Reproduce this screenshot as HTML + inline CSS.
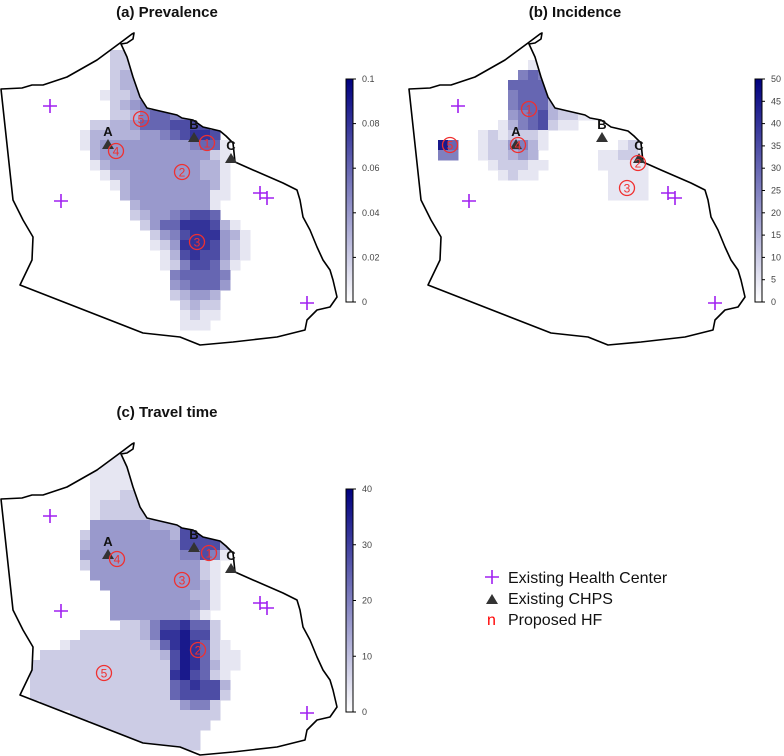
<!DOCTYPE html>
<html><head><meta charset="utf-8"><style>
html,body{margin:0;padding:0;background:#fff;}
svg{display:block;font-family:"Liberation Sans",Arial,sans-serif;}
</style></head><body>
<svg id="fig" width="784" height="756" viewBox="0 0 784 756" xmlns="http://www.w3.org/2000/svg">
<defs>
<linearGradient id="cbgrad" x1="0" y1="1" x2="0" y2="0">
<stop offset="0" stop-color="#ffffff"/><stop offset="1" stop-color="#00007f"/>
</linearGradient>
</defs>
<g>
  <g>
    <path d="M485 577 H499 M492 570 V584" stroke="#a020f0" stroke-width="1.6"/>
    <text x="508" y="583" font-size="16" fill="#111">Existing Health Center</text>
  </g>
  <g>
    <path d="M486 604 L498 604 L492 594 Z" fill="#333"/>
    <text x="508" y="604" font-size="16" fill="#111">Existing CHPS</text>
  </g>
  <g>
    <text x="487" y="625" font-size="16" fill="#ff0000">n</text>
    <text x="508" y="625" font-size="16" fill="#111">Proposed HF</text>
  </g>
</g>
</svg>
<script>
// ---- data ----
const panelTitles = ["(a) Prevalence", "(b) Incidence", "(c) Travel time"];
const panelMax = [0.1, 50, 40];
const tickLabelsA = ["0","0.02","0.04","0.06","0.08","0.1"];
const tickValuesA = [0,0.02,0.04,0.06,0.08,0.1];
const tickLabelsB = ["0","5","10","15","20","25","30","35","40","45","50"];
const tickValuesB = [0,5,10,15,20,25,30,35,40,45,50];
const tickLabelsC = ["0","10","20","30","40"];
const tickValuesC = [0,10,20,30,40];
// grids: rows from y=40 step 10, cols from x=20 step 10; digit d = d/10 of max
const gridPrevalence = [
"00000000000000000000000",
"00000000022200000000000",
"00000000022300000000000",
"00000000023300000000000",
"00000000023300000000000",
"00000000122300000000000",
"00000000023450000000000",
"00000000022356655000000",
"00000002233466677770000",
"00000013333344567887000",
"00000013444444444566100",
"00000003444444444442100",
"00000001344444444433100",
"00000000133444444433100",
"00000000013444444443100",
"00000000003444444441100",
"00000000000344444441000",
"00000000000234456776000",
"00000000000024668887310",
"00000000000002457888431",
"00000000000001248887421",
"00000000000000137877421",
"00000000000000125776310",
"00000000000000056666500",
"00000000000000045666400",
"00000000000000023443000",
"00000000000000002322000",
"00000000000000001211000",
"00000000000000001110000",
"00000000000000000000000"];
const gridIncidence = [
"00000000000000000000000",
"00000000000000000000000",
"00000000001000000000000",
"00000000056500000000000",
"00000000666610000000000",
"00000000566620000000000",
"00000000566630000000000",
"00000000456732211000000",
"00000001356721100000000",
"00000121222100000000000",
"09600122453100000001210",
"05500122343000000112210",
"00000012221100000111110",
"00000001211000000011110",
"00000000000000000011110",
"00000000000000000011110",
"00000000000000000000000"];
const gridTravel = [
"00000000111000000000000",
"00000000111000000000000",
"00000001111000000000000",
"00000001111100000000000",
"00000001112210000000000",
"00000001222221000000000",
"00000001222222000000000",
"00000004444443337770000",
"00000024444444437777000",
"00000034444444447777310",
"00000044444444445575100",
"00000024444444444421000",
"00000004444444444421000",
"00000000444444444431000",
"00000000044444444331000",
"00000000044444444431000",
"00000000044444444310000",
"00000000002235778662000",
"00000022222235889772000",
"00001222222223689862100",
"00222222222222379862110",
"02222222222222279863110",
"02222222222222289762100",
"02222222222222267877300",
"02222222222222267777200",
"00222222222222224552000",
"00000222222222222222000",
"00000002222222222220000",
"00000000022222222200000",
"00000000000222222200000",
"00000000000000222000000"];
const healthCenters = [[50,106],[61,201],[260,193],[267,198],[307,303]];
const chps = [["A",108,145],["B",194,138],["C",231,159]];
const proposedA = [[207,143],[182,172],[197,242],[116,151],[141,119]];
const proposedB = [[121,109],[230,163],[219,188],[110,145],[42,145]];
const proposedC = [[209,143],[198,240],[182,170],[117,149],[104,263]];
const outline = [[1,89],[22,88],[32,85],[43,85],[67,77],[97,60],[120,43],[132,34],[134,33],[133,39],[127,43],[121,44],[127,57],[133,77],[140,97],[147,108],[177,115],[182,118],[193,120],[203,127],[220,131],[226,136],[233,143],[235,162],[253,170],[283,183],[297,190],[300,200],[303,217],[310,230],[317,247],[323,260],[330,270],[333,280],[337,297],[330,307],[317,310],[307,320],[305,330],[277,337],[233,342],[200,345],[180,337],[143,333],[20,285],[32,260],[33,237],[23,220],[13,200],[1,89]];

// ---- drawing ----
const NS="http://www.w3.org/2000/svg";
const svg=document.getElementById('fig');
function mk(tag,attrs,parent){const e=document.createElementNS(NS,tag);for(const k in attrs)e.setAttribute(k,attrs[k]);(parent||svg).appendChild(e);return e;}
function color(f){f=Math.max(0,Math.min(1,f));const r=Math.round(255*(1-f)),g=Math.round(255*(1-f)),b=Math.round(255-128*f);return `rgb(${r},${g},${b})`;}
const cell=10, gx0=20, gy0=40;
function xs(c){return gx0+c*cell;}
function ys(r){return gy0+r*cell;}
const polyStr=outline.map(p=>p.join(',')).join(' ');

function panel(idx,dx,dy,grid,proposed,ticksV,ticksL){
  const g=mk('g',{transform:`translate(${dx},${dy})`});
  
  
  const t=mk('text',{x:167,y:-dy+ (idx==2?417:17),'text-anchor':'middle','font-size':15,'font-weight':'bold',fill:'#111'},g);
  t.textContent=panelTitles[idx];
  
  
  const cp=mk('clipPath',{id:'clip'+idx},g);
  mk('polygon',{points:polyStr},cp);
  const hm=mk('g',{'clip-path':`url(#clip${idx})`},g);
  
  
  grid.forEach((row,r)=>{for(let c=0;c<row.length;c++){const d=parseInt(row[c],10);if(!d)continue;
    const rc=mk('rect',{x:xs(c),y:ys(r),width:cell+0.5,height:cell+0.5,fill:color(d/10)},hm);
    
    }});
  const ol=mk('polygon',{points:polyStr,fill:'none',stroke:'#000','stroke-width':1.6,'stroke-linejoin':'round'},g);
  
  
  healthCenters.forEach(p=>{const h=mk('path',{d:`M${p[0]-7} ${p[1]} H${p[0]+7} M${p[0]} ${p[1]-7} V${p[1]+7}`,stroke:'#a020f0','stroke-width':1.6},g);
    
    });
  chps.forEach(p=>{const tr=mk('path',{d:`M${p[1]-6} ${p[2]+4} L${p[1]+6} ${p[2]+4} L${p[1]} ${p[2]-6} Z`,fill:'#333'},g);
    
    
    const l=mk('text',{x:p[1],y:p[2]-9,'text-anchor':'middle','font-size':13,'font-weight':'bold',fill:'#111'},g);l.textContent=p[0];
    
    });
  proposed.forEach((p,i)=>{const c=mk('circle',{cx:p[0],cy:p[1],r:7.5,fill:'none',stroke:'#f03030','stroke-width':1.3},g);
    
    
    const tx=mk('text',{x:p[0],y:p[1]+4.5,'text-anchor':'middle','font-size':12,fill:'#f03030'},g);tx.textContent=String(i+1);
    
    });
  // colorbar
  const cbx=idx==1?755-dx:346, top=79, bot=302;
  const cb=mk('g',{},g);
  
  
  mk('rect',{x:cbx,y:top,width:7,height:bot-top,fill:'url(#cbgrad)',stroke:'#000','stroke-width':1},cb);
  const vmax=panelMax[idx];
  ticksV.forEach((v,i)=>{const y=bot-(v/vmax)*(bot-top);
    mk('line',{x1:cbx+7,x2:cbx+10,y1:y,y2:y,stroke:'#000','stroke-width':1},cb);
    const lt=mk('text',{x:cbx+16,y:y+3,'font-size':9,fill:'#444'},cb);lt.textContent=ticksL[i];
    
    });
}
panel(0,0,0,gridPrevalence,proposedA,tickValuesA,tickLabelsA);
panel(1,408,0,gridIncidence,proposedB,tickValuesB,tickLabelsB);
panel(2,0,410,gridTravel,proposedC,tickValuesC,tickLabelsC);
</script>
</body></html>
